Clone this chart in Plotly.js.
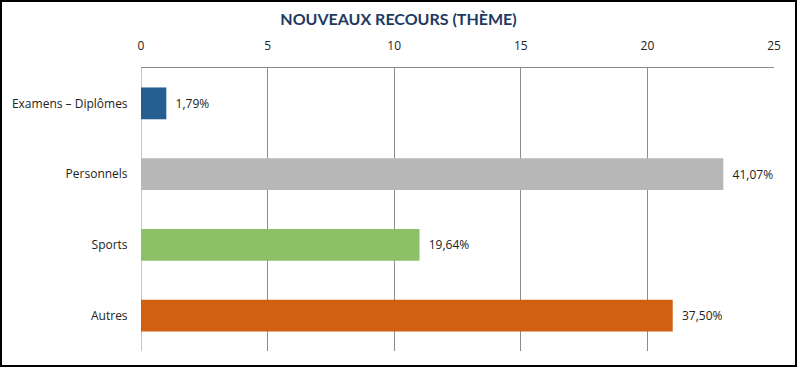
<!DOCTYPE html>
<html>
<head>
<meta charset="utf-8">
<script src="https://cdn.plot.ly/plotly-3.0.1.min.js"></script>
<style>
  html, body { margin: 0; padding: 0; background: #fff; }
  #wrap { position: relative; width: 797px; height: 367px; }
  #chart { width: 797px; height: 367px; }
  #frame { position: absolute; left: 0; top: 0; width: 797px; height: 367px; box-sizing: border-box; border: 2px solid #000; pointer-events: none; }
</style>
</head>
<body>
<div id="wrap"><div id="chart"></div><div id="frame"></div></div>
<script>
const categories = ["Examens – Diplômes", "Personnels", "Sports", "Autres"];
const counts = [1, 23, 11, 21];
const percentLabels = ["1,79%", "41,07%", "19,64%", "37,50%"];
const colors = ["#255e91", "#b7b7b7", "#8cc168", "#d26012"];
const xTicks = [0, 5, 10, 15, 20, 25];

const trace = {
  type: "bar",
  orientation: "h",
  y: categories,
  x: counts,
  text: percentLabels.map(t => "\u00a0\u00a0" + t),
  textposition: "outside",
  cliponaxis: false,
  textfont: { family: "Open Sans, sans-serif", size: 12, color: "#222" },
  marker: { color: colors },
  hoverinfo: "none",
  width: 0.45
};

const layout = {
  width: 797, height: 367,
  margin: { l: 141, r: 23, t: 68, b: 16 },
  paper_bgcolor: "#fff", plot_bgcolor: "#fff",
  showlegend: false,
  title: {
    text: "<b>NOUVEAUX RECOURS (THÈME)</b>",
    x: 0.5, xref: "container", xanchor: "center",
    y: 1, yref: "container", yanchor: "top", pad: { t: 14 },
    font: { family: "Lato, sans-serif", size: 16, color: "#1f3a60" }
  },
  xaxis: {
    side: "top",
    range: [0, 25],
    tickvals: xTicks,
    ticktext: xTicks.map(String),
    showgrid: true, gridcolor: "#8c8c8c", gridwidth: 1,
    zeroline: false,
    showline: true, linecolor: "#8c8c8c", linewidth: 1,
    ticks: "outside", ticklen: 12, tickcolor: "rgba(0,0,0,0)",
    tickfont: { family: "Open Sans, sans-serif", size: 12, color: "#222" },
    fixedrange: true
  },
  yaxis: {
    autorange: "reversed",
    showgrid: false, zeroline: false,
    showline: false,
    ticks: "outside", ticklen: 10, tickcolor: "rgba(0,0,0,0)",
    tickfont: { family: "Open Sans, sans-serif", size: 12, color: "#222" },
    fixedrange: true
  },
  shapes: [{
    type: "line", xref: "x", yref: "paper", x0: 0, x1: 0, y0: 0, y1: 1,
    line: { color: "#8c8c8c", width: 1 }, layer: "below"
  }]
};

Plotly.newPlot("chart", [trace], layout, { displayModeBar: false, staticPlot: true });
</script>
</body>
</html>
